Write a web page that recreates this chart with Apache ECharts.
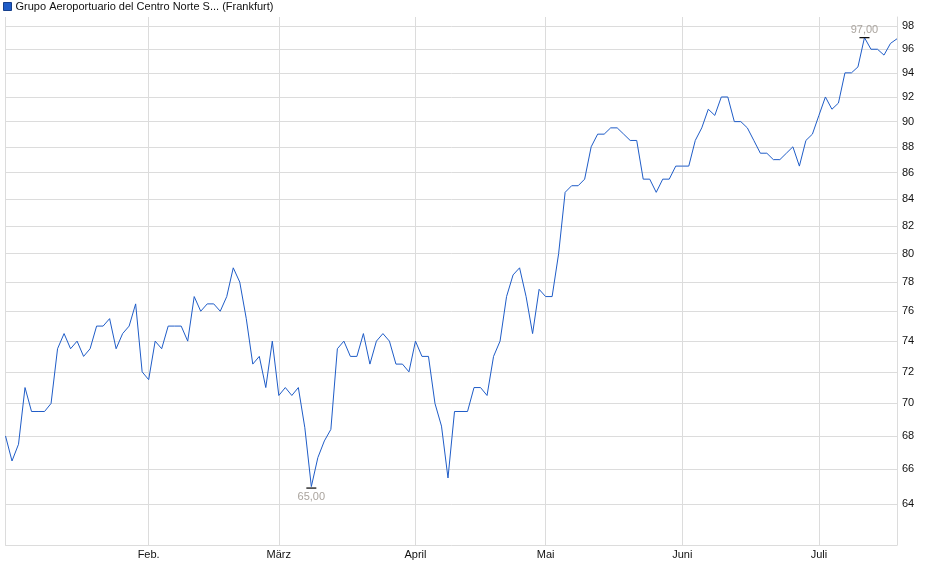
<!DOCTYPE html>
<html>
<head>
<meta charset="utf-8">
<script src="https://cdn.jsdelivr.net/npm/echarts@6/dist/echarts.min.js"></script>
<style>
  html, body { margin: 0; padding: 0; background: #fff; }
  #chart { width: 940px; height: 579px; }
</style>
</head>
<body>
<div id="chart"></div>
<script>
// Schlusskurse (EUR), Handelstage 02.01. - 17.07.
var prices = [
  68, 66.5, 67.5, 71, 69.5, 69.5, 69.5, 70, 73.5, 74.5,
  73.5, 74, 73, 73.5, 75, 75, 75.5, 73.5, 74.5, 75,
  76.5, 72, 71.5, 74, 73.5, 75, 75, 75, 74, 77,
  76, 76.5, 76.5, 76, 77, 79, 78, 75.5, 72.5, 73,
  71, 74, 70.5, 71, 70.5, 71, 68.5, 65, 66.7, 67.7,
  68.4, 73.5, 74, 73, 73, 74.5, 72.5, 74, 74.5, 74,
  72.5, 72.5, 72, 74, 73, 73, 70, 68.6, 65.5, 69.5,
  69.5, 69.5, 71, 71, 70.5, 73, 74, 77, 78.5, 79,
  77, 74.5, 77.5, 77, 77, 80, 84.5, 85, 85, 85.5,
  88, 89, 89, 89.5, 89.5, 89, 88.5, 88.5, 85.5, 85.5,
  84.5, 85.5, 85.5, 86.5, 86.5, 86.5, 88.5, 89.5, 91, 90.5,
  92, 92, 90, 90, 89.5, 88.5, 87.5, 87.5, 87, 87,
  87.5, 88, 86.5, 88.5, 89, 90.5, 92, 91, 91.5, 94,
  94, 94.5, 97, 96, 96, 95.5, 96.5, 96.9
];
var monthNames = ['Jan.', 'Feb.', 'März', 'April', 'Mai', 'Juni', 'Juli'];
var yTicks = [64, 66, 68, 70, 72, 74, 76, 78, 80, 82, 84, 86, 88, 90, 92, 94, 96, 98];
var holidays = ['2025-01-01', '2025-04-18', '2025-04-21', '2025-05-01'];
var seriesName = 'Grupo Aeroportuario del Centro Norte S... (Frankfurt)';

// Handelstage (Mo-Fr ohne Feiertage) ab 02.01.2025
var dates = [];
var d = new Date(Date.UTC(2025, 0, 2));
while (dates.length < prices.length) {
  var s = d.toISOString().slice(0, 10);
  var wd = d.getUTCDay();
  if (wd !== 0 && wd !== 6 && holidays.indexOf(s) < 0) dates.push(s);
  d.setUTCDate(d.getUTCDate() + 1);
}
function monthOf(i) { return +dates[i].slice(5, 7); }
function isMonthStart(i) { return i > 0 && monthOf(i) !== monthOf(i - 1); }

var gridColor = '#dcdcdc';
var chart = echarts.init(document.getElementById('chart'));
chart.setOption({
  animation: false,
  textStyle: { fontFamily: 'Liberation Sans, Arial, sans-serif' },
  legend: {
    left: 3,
    top: 1,
    padding: 0,
    itemWidth: 8,
    itemHeight: 8,
    icon: 'rect',
    textStyle: { fontSize: 11, color: '#111', padding: [0, 0, 0, -1] },
    data: [{
      name: seriesName,
      itemStyle: { color: '#1f5cc7', borderColor: '#163f8c', borderWidth: 1 }
    }]
  },
  grid: { left: 5.5, right: 43, top: 17, bottom: 34 },
  xAxis: {
    type: 'category',
    data: dates,
    boundaryGap: false,
    axisLine: { show: true, lineStyle: { color: gridColor, width: 1 } },
    axisTick: { show: false },
    axisLabel: {
      interval: function (i) { return isMonthStart(i); },
      formatter: function (v) { return monthNames[+v.slice(5, 7) - 1]; },
      fontSize: 11,
      color: '#111',
      margin: 4
    },
    splitLine: {
      show: true,
      interval: function (i) { return i === 0 || isMonthStart(i); },
      lineStyle: { color: gridColor, width: 1 }
    }
  },
  yAxis: {
    type: 'log',
    position: 'right',
    min: 61.7,
    max: 98.8,
    axisLine: { show: true, lineStyle: { color: gridColor, width: 1 } },
    axisTick: { show: false, customValues: yTicks },
    axisLabel: {
      customValues: yTicks,
      fontSize: 11,
      color: '#111',
      margin: 5
    },
    splitLine: { show: true, lineStyle: { color: gridColor, width: 1 } }
  },
  series: [{
    name: seriesName,
    type: 'line',
    data: prices,
    showSymbol: false,
    symbol: 'none',
    lineStyle: { color: '#1f5cc7', width: 1 },
    itemStyle: { color: '#1f5cc7' },
    markPoint: {
      symbol: 'rect',
      symbolSize: [10, 1.3],
      itemStyle: { color: '#111' },
      label: {
        fontSize: 11,
        color: '#aaa49e',
        formatter: function (p) { return p.value.toFixed(2).replace('.', ','); }
      },
      data: [
        { type: 'max', label: { position: 'top', distance: 2 } },
        { type: 'min', symbolOffset: [0, 1.5], label: { position: 'bottom', distance: 3 } }
      ]
    }
  }]
});
</script>
</body>
</html>
